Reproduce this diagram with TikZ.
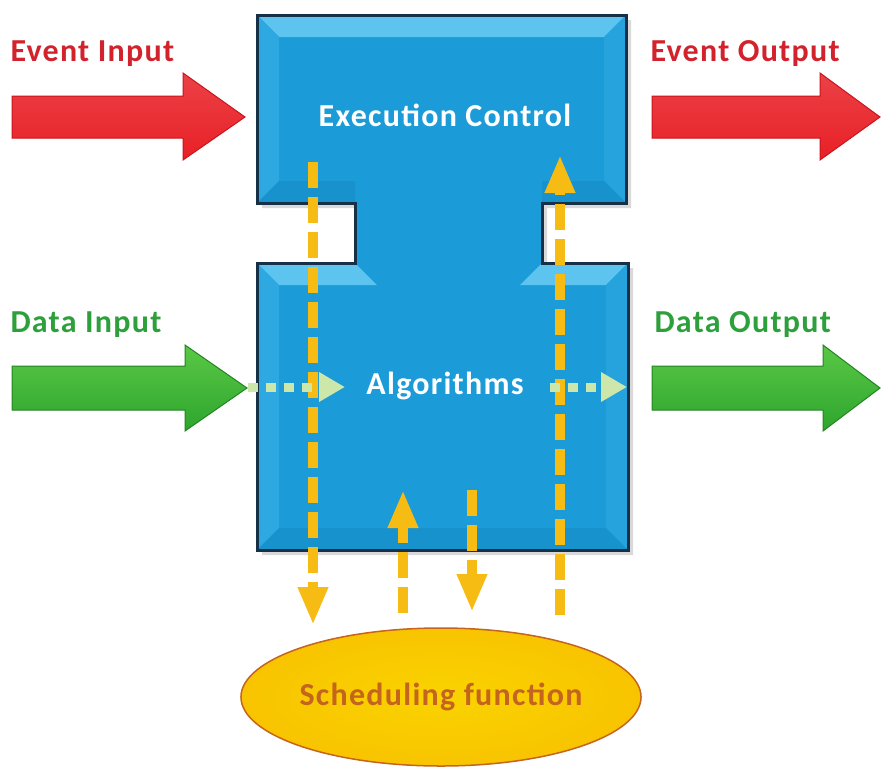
\documentclass[tikz,border=0pt]{standalone}
\usepackage{fontspec}
\setmainfont{Carlito}[LetterSpace=4]
\usetikzlibrary{arrows.meta,shapes.geometric}
\definecolor{fbBlue}{RGB}{27,155,215}
\definecolor{fbTop}{RGB}{92,196,238}
\definecolor{fbSide}{RGB}{45,168,224}
\definecolor{fbLow}{RGB}{24,146,204}
\definecolor{fbEdge}{RGB}{22,48,72}
\definecolor{evRed}{RGB}{232,32,38}
\definecolor{evRedDark}{RGB}{200,20,28}
\definecolor{evText}{RGB}{210,35,45}
\definecolor{dtGreen}{RGB}{45,165,45}
\definecolor{dtGreenLight}{RGB}{90,200,70}
\definecolor{dtText}{RGB}{45,160,60}
\definecolor{dtFlow}{RGB}{205,230,170}
\definecolor{scYellow}{RGB}{246,188,20}
\definecolor{scFill}{RGB}{248,196,0}
\definecolor{scEdge}{RGB}{236,172,0}
\definecolor{scText}{RGB}{196,100,30}

\begin{document}
\begin{tikzpicture}[
    x=1pt, y=-1pt,
    big text/.style={font=\fontsize{32}{36}\selectfont\bfseries},
    event arrow/.style={draw=evRedDark, line width=1pt, top color=evRed!85!white, bottom color=evRed},
    data arrow/.style={draw=dtGreen!80!black, line width=1pt, top color=dtGreenLight, bottom color=dtGreen},
    sched link/.style={draw=scYellow, line width=10pt, dash pattern=on 26pt off 9pt, -{Triangle[width=28pt,length=38pt]}},
    data flow/.style={draw=dtFlow, line width=9pt, dash pattern=on 10pt off 8pt, -{Triangle[width=28pt,length=26pt]}},
    scheduler/.style={ellipse, draw=scEdge, line width=1.5pt, inner sep=0pt, inner color=scFill!75!yellow, outer color=scFill, minimum width=394, minimum height=138}
]
  \useasboundingbox (0,0) rectangle (882,769);

  % function block
  \fill[black!15]
    (262,20) -- (631,20) -- (631,208) -- (547,208) -- (547,268) -- (633,268)
    -- (633,555) -- (262,555) -- (262,268) -- (360,268) -- (360,208) -- (262,208) -- cycle;
  \fill[fbBlue]
    (257,15) -- (626,15) -- (626,203) -- (542,203) -- (542,263) -- (628,263)
    -- (628,550) -- (257,550) -- (257,263) -- (355,263) -- (355,203) -- (257,203) -- cycle;
  % bevels
  \fill[fbTop] (257,15) -- (626,15) -- (604,37) -- (279,37) -- cycle;
  \fill[fbSide] (257,15) -- (279,37) -- (279,181) -- (257,203) -- cycle;
  \fill[fbSide!60!fbBlue] (626,15) -- (604,37) -- (604,181) -- (626,203) -- cycle;
  \fill[fbLow] (257,203) -- (279,181) -- (355,181) -- (355,203) -- cycle;
  \fill[fbLow] (542,203) -- (542,181) -- (604,181) -- (626,203) -- cycle;
  \fill[fbTop] (257,263) -- (355,263) -- (377,285) -- (279,285) -- cycle;
  \fill[fbTop] (542,263) -- (628,263) -- (606,285) -- (520,285) -- cycle;
  \fill[fbSide] (257,263) -- (279,285) -- (279,528) -- (257,550) -- cycle;
  \fill[fbSide!60!fbBlue] (628,263) -- (606,285) -- (606,528) -- (628,550) -- cycle;
  \fill[fbLow] (257,550) -- (279,528) -- (606,528) -- (628,550) -- cycle;
  \draw[fbEdge, line width=3pt, line join=miter]
    (257,15) -- (626,15) -- (626,203) -- (542,203) -- (542,263) -- (628,263)
    -- (628,550) -- (257,550) -- (257,263) -- (355,263) -- (355,203) -- (257,203) -- cycle;
  \node[big text, white] (exec) at (445,115) {Execution Control};
  \node[big text, white] (algo) at (445,386) {Algorithms};

  % event and data arrows
  \path[event arrow] (12,96) -- (183,96) -- (183,73) -- (245,117) -- (183,160) -- (183,138) -- (12,138) -- cycle;
  \path[event arrow] (652,96) -- (820,96) -- (820,73) -- (880,117) -- (820,160) -- (820,138) -- (652,138) -- cycle;
  \path[data arrow] (12,366) -- (185,366) -- (185,345) -- (247,388) -- (185,431) -- (185,410) -- (12,410) -- cycle;
  \path[data arrow] (652,366) -- (823,366) -- (823,345) -- (880,388) -- (823,431) -- (823,410) -- (652,410) -- cycle;

  \node[big text, evText, anchor=west] (evIn) at (7,54) {Event Input};
  \node[big text, evText, anchor=west] (evOut) at (647,54) {Event Output};
  \node[big text, dtText, anchor=west] (dtIn) at (7,325) {Data Input};
  \node[big text, dtText, anchor=west] (dtOut) at (651,325) {Data Output};

  % scheduling function
  \node[scheduler, big text, scText] (sched) at (441,697) {Scheduling function};

  \coordinate (ecDown) at (313,162);
  \coordinate (scDown) at (313,625);
  \coordinate (scUp) at (560,615);
  \coordinate (ecUp) at (560,155);
  \coordinate (scInA) at (403,613);
  \coordinate (algoInA) at (403,490);
  \coordinate (algoOutB) at (472,490);
  \coordinate (scOutB) at (472,612);
  \coordinate (flowIn) at (248,387);
  \coordinate (flowInTip) at (345,387);
  \coordinate (flowOut) at (550,387);
  \coordinate (flowOutTip) at (627,387);

  \draw[sched link] (ecDown) -- (scDown);
  \draw[sched link] (scUp) -- (ecUp);
  \draw[sched link] (scInA) -- (algoInA);
  \draw[sched link] (algoOutB) -- (scOutB);
  \draw[data flow] (flowIn) -- (flowInTip);
  \draw[data flow] (flowOut) -- (flowOutTip);
\end{tikzpicture}
\end{document}
